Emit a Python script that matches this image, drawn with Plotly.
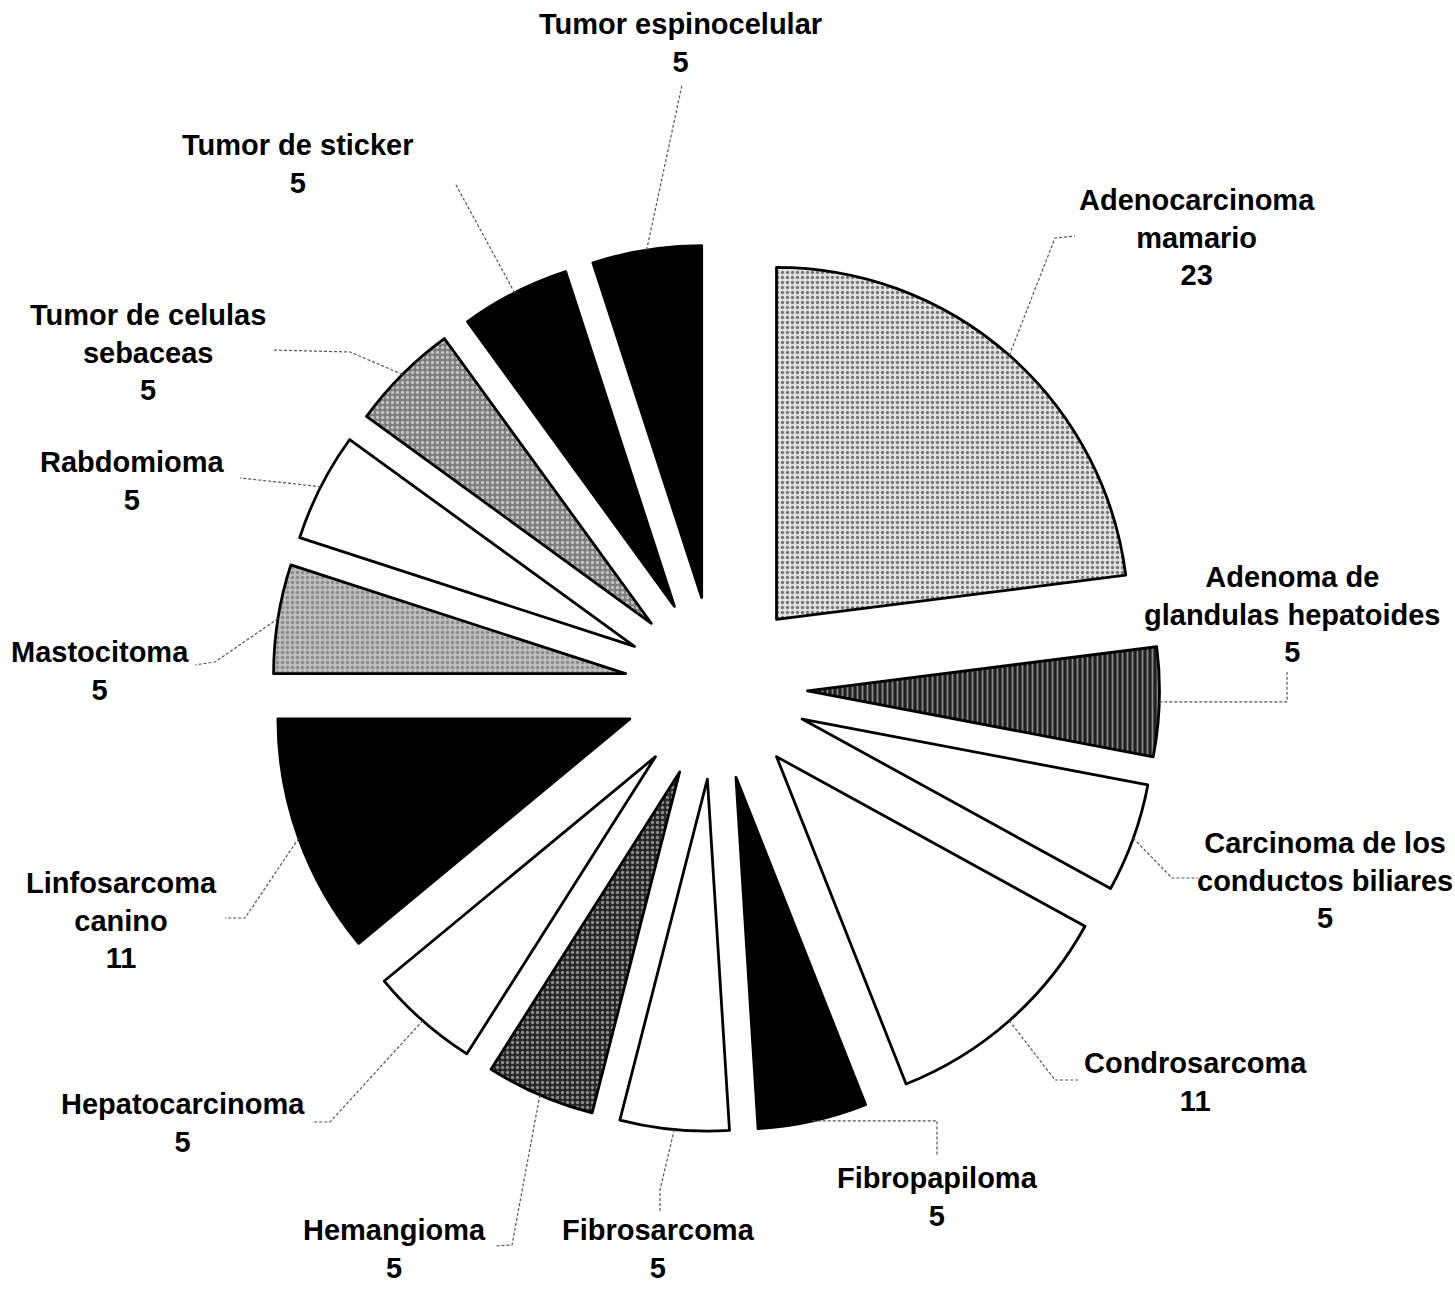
import math
import plotly.graph_objects as go

W, H = 1455, 1289

# Tumour types (clockwise from 12 o'clock) and number of cases (%)
tumores = [
    "Adenocarcinoma mamario", "Adenoma de glandulas hepatoides",
    "Carcinoma de los conductos biliares", "Condrosarcoma", "Fibropapiloma",
    "Fibrosarcoma", "Hemangioma", "Hepatocarcinoma", "Linfosarcoma canino",
    "Mastocitoma", "Rabdomioma", "Tumor de celulas sebaceas",
    "Tumor de sticker", "Tumor espinocelular",
]
casos = [23, 5, 5, 11, 5, 5, 5, 5, 11, 5, 5, 5, 5, 5]
etiquetas = [
    "Adenocarcinoma<br>mamario", "Adenoma de<br>glandulas hepatoides",
    "Carcinoma de los<br>conductos biliares", "Condrosarcoma", "Fibropapiloma",
    "Fibrosarcoma", "Hemangioma", "Hepatocarcinoma", "Linfosarcoma<br>canino",
    "Mastocitoma", "Rabdomioma", "Tumor de celulas<br>sebaceas",
    "Tumor de sticker", "Tumor espinocelular",
]

# Slice fills (grey-scale print style)
colores = ["#e2e2e2", "#202020", "white", "white", "black", "white", "#262626",
           "white", "black", "#bdbdbd", "white", "#7e7e7e", "black", "black"]
patrones = [".", "|", "", "", "", "", ".", "", "", ".", "", ".", "", ""]
patron_fg = ["#777777", "#8a8a8a", "black", "black", "black", "black", "#8c8c8c",
             "black", "black", "#8a8a8a", "black", "#c4c4c4", "black", "black"]

# Pie geometry in pixels
CX, CY, R, PULL = 716, 688, 352, 0.26
half = R * (1 + PULL)
dom_x = [(CX - half) / W, (CX + half) / W]
dom_y = [1 - (CY + half) / H, 1 - (CY - half) / H]

fig = go.Figure(go.Pie(
    labels=tumores, values=casos, sort=False, direction="clockwise", rotation=0,
    pull=[PULL] * len(casos), textinfo="none", hoverinfo="label+value",
    marker=dict(colors=colores, line=dict(color="black", width=2.8),
                pattern=dict(shape=patrones, fgcolor=patron_fg, bgcolor=colores,
                             size=5, solidity=0.35)),
    domain=dict(x=dom_x, y=dom_y), showlegend=False,
))

# Label placement: text centre (px) and leader waypoints near the label (px)
colocacion = [
    (1197, 237, [(1055, 238), (1075, 236)]),
    (1292, 614, [(1287, None), (1287, 672)]),
    (1325, 880, [(1172, 878), (1198, 878)]),
    (1195, 1082, [(1055, 1080), (1078, 1080)]),
    (937, 1197, [(937, None), (937, 1155)]),
    (658, 1249, [(660, 1190), (660, 1212)]),
    (395, 1249, [(512, 1245), (495, 1246)]),
    (183, 1123, [(330, 1122), (312, 1122)]),
    (122, 920, [(245, 918), (225, 918)]),
    (100, 671, [(215, 662), (195, 665)]),
    (132, 481, [(240, 478)]),
    (148, 352, [(350, 352), (272, 350)]),
    (298, 164, [(455, 183)]),
    (680, 43, [(682, 85)]),
]

def px(x, y):
    return x / W, 1 - y / H

total = sum(casos)
acum = 0
anotaciones, formas = [], []
for nombre, valor, (tx, ty, puntos) in zip(etiquetas, casos, colocacion):
    medio = (acum + valor / 2) / total * 2 * math.pi
    acum += valor
    # point on the outer arc of the pulled slice, at its mid angle
    ax = CX + R * (1 + PULL) * math.sin(medio)
    ay = CY - R * (1 + PULL) * math.cos(medio)
    ruta = [(ax, ay)]
    for (qx, qy) in puntos:
        ruta.append((qx, ay if qy is None else qy))
    d = "M " + " L ".join("%.5f %.5f" % px(x, y) for x, y in ruta)
    formas.append(dict(type="path", path=d, xref="paper", yref="paper",
                       line=dict(color="#555555", width=1.2, dash="3px,2px")))
    x, y = px(tx, ty)
    anotaciones.append(dict(
        text=f"{nombre}<br>{valor}", x=x, y=y, xref="paper", yref="paper",
        xanchor="center", yanchor="middle", align="center", showarrow=False,
        font=dict(family="Liberation Sans, Arial, sans-serif", size=29,
                  color="black", weight=700),
    ))

fig.update_layout(
    width=W, height=H, margin=dict(l=0, r=0, t=0, b=0),
    paper_bgcolor="white", plot_bgcolor="white",
    annotations=anotaciones, shapes=formas,
)

fig.write_html("out.html")
